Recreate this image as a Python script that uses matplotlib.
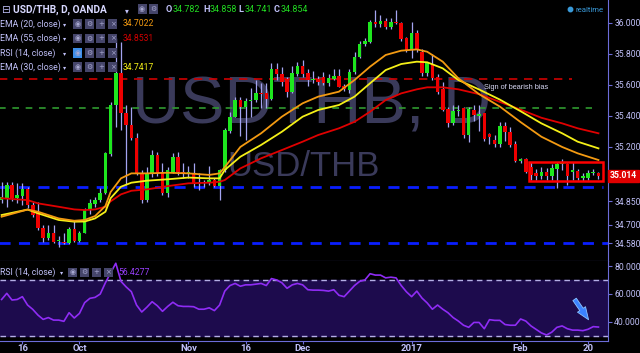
import matplotlib
matplotlib.use("Agg")
import matplotlib.pyplot as plt
import numpy as np
from matplotlib.patches import Rectangle
from matplotlib.transforms import blended_transform_factory

# ---- values: USD/THB daily, OANDA, Sep 2016 - Feb 2017 ----
opens = [34.86, 34.869, 34.955, 34.869, 34.884, 34.927, 34.826, 34.773, 34.68, 34.612,
         34.648, 34.594, 34.59, 34.58, 34.67, 34.596, 34.648, 34.794, 34.833, 34.858,
         34.905, 35.155, 35.47, 35.676, 35.418, 35.341, 35.258, 35.032, 34.858, 35.032,
         35.148, 35.032, 34.904, 35.04, 35.133, 35.04, 35.035, 35.032, 34.97, 34.965,
         34.968, 34.99, 34.948, 35.052, 35.3, 35.395, 35.502, 35.457, 35.498, 35.502,
         35.545, 35.547, 35.508, 35.7, 35.67, 35.636, 35.556, 35.67, 35.721, 35.674,
         35.631, 35.636, 35.648, 35.614, 35.636, 35.657, 35.592, 35.567, 35.685, 35.781,
         35.863, 35.878, 36.006, 35.99, 36.013, 35.975, 36.006, 36.0, 35.9, 35.828,
         35.932, 35.814, 35.674, 35.734, 35.648, 35.571, 35.442, 35.352, 35.433, 35.449,
         35.277, 35.44, 35.4, 35.417, 35.283, 35.245, 35.219, 35.335, 35.298, 35.219,
         35.111, 35.12, 35.073, 35.03, 35.015, 35.04, 35.013, 35.056, 35.09, 35.088,
         35.04, 35.045, 34.998, 34.998, 35.03, 35.034]
highs = [34.975, 34.976, 34.976, 34.97, 34.966, 34.944, 34.847, 34.847, 34.697, 34.697,
         34.697, 34.627, 34.644, 34.682, 34.725, 34.66, 34.805, 34.863, 34.88, 34.934,
         35.165, 35.491, 35.9, 35.878, 35.47, 35.459, 35.29, 35.052, 35.073, 35.18,
         35.167, 35.095, 35.073, 35.16, 35.167, 35.097, 35.075, 35.097, 35.032, 34.99,
         35.08, 35.0, 35.06, 35.32, 35.427, 35.52, 35.52, 35.515, 35.58, 35.63,
         35.61, 35.61, 35.74, 35.74, 35.714, 35.652, 35.72, 35.75, 35.76, 35.705,
         35.69, 35.66, 35.68, 35.67, 35.7, 35.7, 35.605, 35.7, 35.81, 35.88,
         35.9, 36.02, 36.082, 36.05, 36.03, 36.03, 36.082, 36.005, 35.91, 36.006,
         35.95, 35.83, 35.75, 35.8, 35.67, 35.62, 35.46, 35.47, 35.47, 35.46,
         35.46, 35.47, 35.47, 35.42, 35.29, 35.28, 35.36, 35.36, 35.33, 35.24,
         35.13, 35.13, 35.105, 35.06, 35.07, 35.065, 35.09, 35.105, 35.12, 35.095,
         35.1, 35.06, 35.03, 35.05, 35.06, 35.04]
lows = [34.837, 34.815, 34.85, 34.837, 34.826, 34.805, 34.751, 34.665, 34.59, 34.601,
        34.58, 34.554, 34.575, 34.575, 34.59, 34.59, 34.644, 34.768, 34.815, 34.847,
        34.9, 35.14, 35.33, 35.309, 34.955, 35.245, 35.02, 34.837, 34.847, 35.008,
        35.01, 34.89, 34.88, 35.03, 35.02, 35.0, 35.0, 34.942, 34.923, 34.94,
        34.955, 34.94, 34.858, 35.04, 35.288, 35.39, 35.27, 35.245, 35.393, 35.49,
        35.45, 35.45, 35.5, 35.63, 35.594, 35.524, 35.55, 35.66, 35.65, 35.595,
        35.61, 35.6, 35.6, 35.595, 35.63, 35.586, 35.56, 35.55, 35.67, 35.77,
        35.85, 35.87, 35.97, 35.975, 35.96, 35.96, 35.99, 35.885, 35.81, 35.77,
        35.81, 35.66, 35.66, 35.63, 35.54, 35.43, 35.33, 35.34, 35.4, 35.26,
        35.235, 35.37, 35.3, 35.24, 35.22, 35.2, 35.2, 35.24, 35.2, 35.1,
        35.095, 35.03, 34.987, 34.99, 34.995, 34.985, 34.99, 34.934, 35.05, 34.955,
        34.985, 34.985, 34.983, 34.985, 35.02, 34.995]
closes = [34.88, 34.955, 34.869, 34.89, 34.927, 34.826, 34.762, 34.676, 34.612, 34.648,
          34.59, 34.598, 34.58, 34.67, 34.596, 34.648, 34.794, 34.837, 34.858, 34.905,
          35.159, 35.47, 35.676, 35.418, 35.341, 35.258, 35.032, 34.858, 35.032, 35.148,
          35.032, 34.904, 35.052, 35.133, 35.04, 35.035, 35.04, 34.968, 34.965, 34.975,
          34.99, 34.948, 35.052, 35.309, 35.395, 35.502, 35.457, 35.498, 35.505, 35.545,
          35.54, 35.508, 35.7, 35.67, 35.62, 35.556, 35.674, 35.721, 35.67, 35.631,
          35.636, 35.62, 35.614, 35.642, 35.657, 35.588, 35.57, 35.685, 35.78, 35.863,
          35.884, 36.006, 35.99, 36.013, 35.975, 36.006, 35.998, 35.893, 35.824, 35.932,
          35.828, 35.674, 35.738, 35.642, 35.556, 35.438, 35.352, 35.433, 35.44, 35.277,
          35.442, 35.406, 35.41, 35.249, 35.262, 35.219, 35.335, 35.298, 35.212, 35.111,
          35.12, 35.04, 35.02, 35.013, 35.04, 35.015, 35.067, 35.09, 35.092, 35.013,
          35.05, 34.998, 35.01, 35.034, 35.04, 35.014]

rsi = [56, 60.4, 55.6, 56, 58, 52, 48.9, 44.8, 41.7, 43,
       41.2, 41.2, 40.3, 46.5, 42.7, 46, 53.7, 56.8, 57.5, 59.9,
       68, 75, 82, 69, 65, 61.6, 52, 47, 50.5, 54.4,
       51.5, 47.5, 51, 54, 51.5, 51, 51, 50.8, 49, 49,
       50, 48, 52, 62, 66, 67.5, 65.5, 66.5, 66.5, 67,
       67.5, 66, 71, 70, 68, 64, 66.5, 67.5, 66.5, 63,
       62.7, 62.7, 62.5, 62, 63, 59, 58, 62, 66, 69,
       70, 74.5, 73.5, 73.5, 71.5, 72, 71.5, 66, 61.5, 58,
       62, 57, 53.5, 49, 52, 49, 46.5, 43, 40.5, 37.5,
       36, 39.5, 39.5, 35, 41.5, 41, 41, 38, 37.5, 37.5,
       42, 40.5, 37, 34.5, 32, 30.5, 32.5, 36, 37, 35,
       34, 34, 33.6, 34.6, 36.5, 36.2]

# EMA lines sampled along the chart (bar index, value)
ema_idx = [0, 5, 7, 11, 14, 16, 18, 20, 21, 23, 25, 28, 32, 36, 40, 42, 43, 46, 50, 54,
           58, 61, 65, 68, 71, 74, 77, 80, 82, 85, 88, 92, 96, 100, 104, 108, 111, 115]
ema20 = [34.751, 34.797, 34.783, 34.74, 34.725, 34.73, 34.755, 34.82, 34.91, 34.998,
         35.03, 35.03, 35.034, 35.03, 35.02, 35.03, 35.07, 35.2, 35.288, 35.395,
         35.481, 35.524, 35.556, 35.631, 35.717, 35.792, 35.82, 35.828, 35.813, 35.749,
         35.642, 35.54, 35.46, 35.36, 35.266, 35.2, 35.159, 35.116]
ema30 = [34.762, 34.797, 34.773, 34.73, 34.719, 34.72, 34.74, 34.783, 34.87, 34.944,
         34.97, 34.983, 34.992, 35.003, 34.998, 34.998, 35.052, 35.137, 35.213, 35.298,
         35.395, 35.438, 35.47, 35.524, 35.61, 35.695, 35.734, 35.749, 35.745, 35.706,
         35.631, 35.57, 35.505, 35.43, 35.352, 35.288, 35.234, 35.191]
ema55 = [34.87, 34.858, 34.837, 34.815, 34.798, 34.794, 34.798, 34.815, 34.85, 34.895,
         34.918, 34.927, 34.948, 34.966, 34.97, 34.976, 34.987, 35.062, 35.127, 35.18,
         35.234, 35.277, 35.32, 35.362, 35.427, 35.502, 35.545, 35.571, 35.584, 35.584,
         35.571, 35.54, 35.49, 35.44, 35.388, 35.352, 35.32, 35.288]

date_ticks = [4, 15, 36, 47, 58, 79, 100, 113]
date_labels = ["16", "Oct", "Nov", "16", "Dec", "2017", "Feb", "20"]
price_ticks = [36.0, 35.8, 35.6, 35.4, 35.2, 34.85, 34.7, 34.58]
rsi_ticks = [40, 60, 80]

# drawn levels / annotations
level_prices = [35.64, 35.45, 34.94, 34.583]
level_ends = [109.9, 113.8, 115.9, 116.8]
box_bars = [101.7, 115.9]
box_prices = [34.98, 35.105]
last_price = 35.014
arrow_from = (110.1, 57.7)
arrow_to = (113.4, 39.8)

# ---- style ----
W, H = 640, 353
BG = "black"
AXC = "#6c6cd8"
TXT = "#c0c0f8"
WICK = "#a4a4f0"
GREEN = "#1ee61e"
RED = "#ee0000"
plt.rcParams["font.family"] = ["Roboto", "DejaVu Sans"]

fig = plt.figure(figsize=(6.4, 3.53), dpi=100, facecolor=BG)
ax = fig.add_axes([0, 1 - 261.3 / H, 608 / W, 261.3 / H])
ax_rsi = fig.add_axes([0, 1 - 340.7 / H, 608 / W, (340.7 - 261.3) / H], sharex=ax)

for a in (ax, ax_rsi):
    a.set_facecolor(BG)
    a.spines["top"].set_visible(False)
    a.spines["left"].set_visible(False)
    a.spines["right"].set_color(AXC)
    a.spines["bottom"].set_color(AXC)
    a.yaxis.tick_right()
    a.tick_params(axis="y", colors=AXC, labelcolor=TXT, labelsize=6.2, length=3, width=0.8, pad=1.5)

# watermark
ax.text(0.513, 0.594, "USDTHB, D", transform=ax.transAxes, ha="center", va="center",
        fontsize=48, color="#3a3a5a", family="Liberation Sans", zorder=0)
ax.text(0.5, 0.361, "USD/THB", transform=ax.transAxes, ha="center", va="center",
        fontsize=25, color="#3a3a5a", family="Liberation Sans", zorder=0)

# horizontal levels
dash_styles = [(0, (5, 4)), (0, (4, 4)), (0, (4, 3)), (0, (4, 3))]
level_colors = ["#d00000", "#2f9a2f", "#0a1eff", "#0a1eff"]
level_widths = [1.2, 1.2, 2.0, 2.0]
for p, e, ls, col, lw in zip(level_prices, level_ends, dash_styles, level_colors, level_widths):
    ax.hlines(p, -1, e, colors=col, linestyles=ls, lw=lw, zorder=1)

# candles
x = np.arange(len(opens))
o, h, l, c = map(np.array, (opens, highs, lows, closes))
up = c >= o
ax.vlines(x, l, h, color=WICK, lw=0.9, zorder=3)
ax.bar(x, np.maximum(np.abs(c - o), 0.005), bottom=np.minimum(o, c), width=0.68,
       color=np.where(up, GREEN, RED), linewidth=0, zorder=4)

# EMAs
ax.plot(ema_idx, ema55, color="#e00000", lw=1.3, zorder=5)
ax.plot(ema_idx, ema30, color="#f5f018", lw=1.3, zorder=5)
ax.plot(ema_idx, ema20, color="#f39a12", lw=1.3, zorder=5)

# consolidation box
ax.add_patch(Rectangle((box_bars[0], box_prices[0]), box_bars[1] - box_bars[0],
                       box_prices[1] - box_prices[0], fill=False, ec="#ff0000", lw=1.8, zorder=6))
ax.text(92.9, 35.58, "Sign of bearish bias", color="#d8d8f4", fontsize=5.3,
        family="Liberation Sans", va="center", ha="left", zorder=6)

ax.set_xlim(-0.31, 116.84)
ax.set_ylim(34.464, 36.146)
ax.set_yticks(price_ticks)
ax.set_yticklabels([f"{v:.3f}" for v in price_ticks])
ax.tick_params(axis="x", bottom=False, labelbottom=False)

trans = blended_transform_factory(ax.transAxes, ax.transData)
ax.text(1.003, last_price, f"{last_price:.3f}", transform=trans, color="white", fontsize=6.2,
        fontweight="bold", va="center", ha="left", clip_on=False, zorder=10,
        bbox=dict(boxstyle="square,pad=0.2", fc="#e00000", ec="#e00000"))

# RSI pane
ax_rsi.axhspan(30, 70, color="#1d0b4d", zorder=0)
for lev in (30, 70):
    ax_rsi.axhline(lev, color="#b4aee6", lw=1, ls=(0, (4, 3)), zorder=1)
ax_rsi.plot(x, rsi, color="#8f2cf5", lw=1.2, zorder=3)
ax_rsi.annotate("", xy=arrow_to, xytext=arrow_from,
                arrowprops=dict(arrowstyle="simple,head_width=0.7,head_length=0.9,tail_width=0.3",
                                fc="#3b82ff", ec="#8cc4ff", lw=0.6), zorder=4)
ax_rsi.set_ylim(26.4, 83.4)
ax_rsi.set_yticks(rsi_ticks)
ax_rsi.set_yticklabels([f"{v:.4f}" for v in rsi_ticks])
ax_rsi.set_xticks(date_ticks)
ax_rsi.set_xticklabels(date_labels, fontweight="bold")
ax_rsi.tick_params(axis="x", colors=AXC, labelcolor=TXT, labelsize=6.8, length=2, pad=0.5)

# overlay in pixel coordinates for the legend rows
ov = fig.add_axes([0, 0, 1, 1], zorder=20)
ov.set_xlim(0, W)
ov.set_ylim(H, 0)
ov.axis("off")
ov.patch.set_alpha(0)


def icons(x0, yc, n, hl=False):
    glyphs = ["◉", "⚙", "+", "×"]
    for k in range(n):
        fc = "#3d8ee8" if (hl and k == 0) else "#45456a"
        ov.add_patch(Rectangle((x0 + k * 11.8, yc - 4.6), 9, 9.2, fc=fc, ec="none"))
        ov.text(x0 + k * 11.8 + 4.5, yc, glyphs[k], color="#a8a8d0", fontsize=5,
                family="DejaVu Sans", ha="center", va="center")


ov.text(1.5, 10, "⊟", color=TXT, fontsize=7.5, family="DejaVu Sans", va="center")
ov.text(13, 10, "USD/THB, D, OANDA", color="#d8d8ff", fontsize=7.3, fontweight="bold", va="center")
ov.text(125, 10.5, "▾", color=TXT, fontsize=5.5, family="DejaVu Sans", va="center")
icons(137.5, 9, 2)
ohlc = [("O", "34.782", 166), ("H", "34.858", 203), ("L", "34.741", 238), ("C", "34.854", 274)]
for lab, val, px in ohlc:
    ov.text(px, 10, lab, color=TXT, fontsize=6.6, fontweight="bold", va="center")
    ov.text(px + 6.8, 10, val, color="#22dd22", fontsize=6.4, va="center")

rows = [("EMA (20, close)", 24, "34.7022", "#f39a12", False),
        ("EMA (55, close)", 38.5, "34.8531", "#d00000", False),
        ("RSI (14, close)", 53, "", "", True),
        ("EMA (30, close)", 67, "34.7417", "#f5f018", False)]
for name, yc, val, col, hl in rows:
    ov.text(0, yc, name, color=TXT, fontsize=6.3, va="center")
    ov.text(63, yc + 0.5, "▾", color=TXT, fontsize=4.5, family="DejaVu Sans", va="center")
    icons(72.7, yc, 4, hl)
    if val:
        ov.text(123, yc, val, color=col, fontsize=6.2, va="center")

ov.text(0, 272.5, "RSI (14, close)", color=TXT, fontsize=6.3, va="center")
ov.text(59.5, 273, "▾", color=TXT, fontsize=4.5, family="DejaVu Sans", va="center")
icons(68.3, 272.3, 4)
ov.text(118.5, 272.5, "56.4277", color="#9a40ff", fontsize=6.2, va="center")

ov.plot([570], [9.3], "o", color="#3a9ad9", ms=3.2)
ov.text(575, 9.5, "realtime", color="#3a9ad9", fontsize=5.6, va="center")

fig.savefig("out.png", dpi=100, facecolor=BG)
